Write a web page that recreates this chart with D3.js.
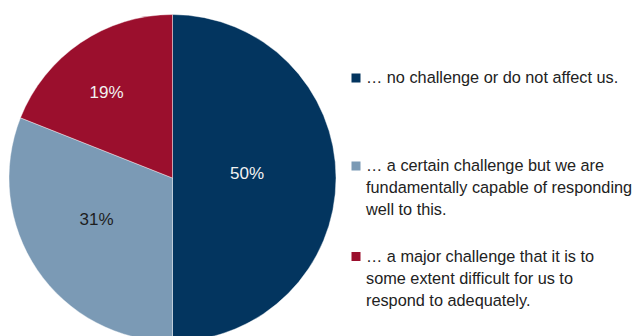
<!DOCTYPE html>
<html>
<head>
<meta charset="utf-8">
<script src="https://cdn.jsdelivr.net/npm/d3@7/dist/d3.min.js"></script>
<style>
  html, body { margin: 0; padding: 0; background: #fff; }
  svg { display: block; }
  text { font-family: "Liberation Sans", Arial, Helvetica, sans-serif; }
</style>
</head>
<body>
<svg id="chart" width="632" height="336"></svg>
<script>
// Share of respondents per answer
const categories = [
  "… no challenge or do not affect us.",
  "… a certain challenge but we are fundamentally capable of responding well to this.",
  "… a major challenge that it is to some extent difficult for us to respond to adequately."
];
const values = [50, 31, 19];
const valueLabels = ["50%", "31%", "19%"];
// Legend text broken into lines
const legendLines = [
  ["… no challenge or do not affect us."],
  ["… a certain challenge but we are", "fundamentally capable of responding", "well to this."],
  ["… a major challenge that it is to", "some extent difficult for us to", "respond to adequately."]
];

const colors = ["#03355f", "#7b9ab5", "#9b0f2d"];
const labelColors = ["#f2f2f2", "#1e1e1e", "#f2f2f2"];
// radial fraction and angular nudge (degrees) for each slice label
const labelPlace = [{ f: 0.457, da: -3.8 }, { f: 0.528, da: 5.8 }, { f: 0.663, da: -3.3 }];

const svg = d3.select("#chart");
const cx = 172.5, cy = 178, R = 163.5;

const pie = d3.pie().sort(null).value(d => d);
const arcs = pie(values);
const arc = d3.arc().innerRadius(0).outerRadius(R);

const g = svg.append("g").attr("transform", `translate(${cx},${cy})`);

g.selectAll("path.slice")
  .data(arcs)
  .join("path")
  .attr("class", "slice")
  .attr("d", arc)
  .attr("fill", (d, i) => colors[i])
  .attr("stroke", "#ffffff")
  .attr("stroke-width", 0.4);

g.selectAll("text.val")
  .data(arcs)
  .join("text")
  .attr("class", "val")
  .attr("transform", (d, i) => {
    const a = (d.startAngle + d.endAngle) / 2 + labelPlace[i].da * Math.PI / 180;
    const r = R * labelPlace[i].f;
    return `translate(${r * Math.sin(a)},${-r * Math.cos(a)})`;
  })
  .attr("text-anchor", "middle")
  .attr("dominant-baseline", "central")
  .attr("font-size", 17)
  .attr("fill", (d, i) => labelColors[i])
  .text((d, i) => valueLabels[i]);

// Legend
const legendTop = [83, 171, 261.5];
const lineH = 22;
const legend = svg.append("g");
legendLines.forEach((lines, i) => {
  legend.append("rect")
    .attr("x", 351.5)
    .attr("y", legendTop[i] - 9.5)
    .attr("width", 9)
    .attr("height", 9)
    .attr("fill", colors[i]);
  const t = legend.append("text")
    .attr("x", 366)
    .attr("y", legendTop[i])
    .attr("font-size", 16.3)
    .attr("fill", "#222");
  lines.forEach((ln, j) => {
    t.append("tspan").attr("x", 366).attr("dy", j === 0 ? 0 : lineH).text(ln);
  });
});
</script>
</body>
</html>
